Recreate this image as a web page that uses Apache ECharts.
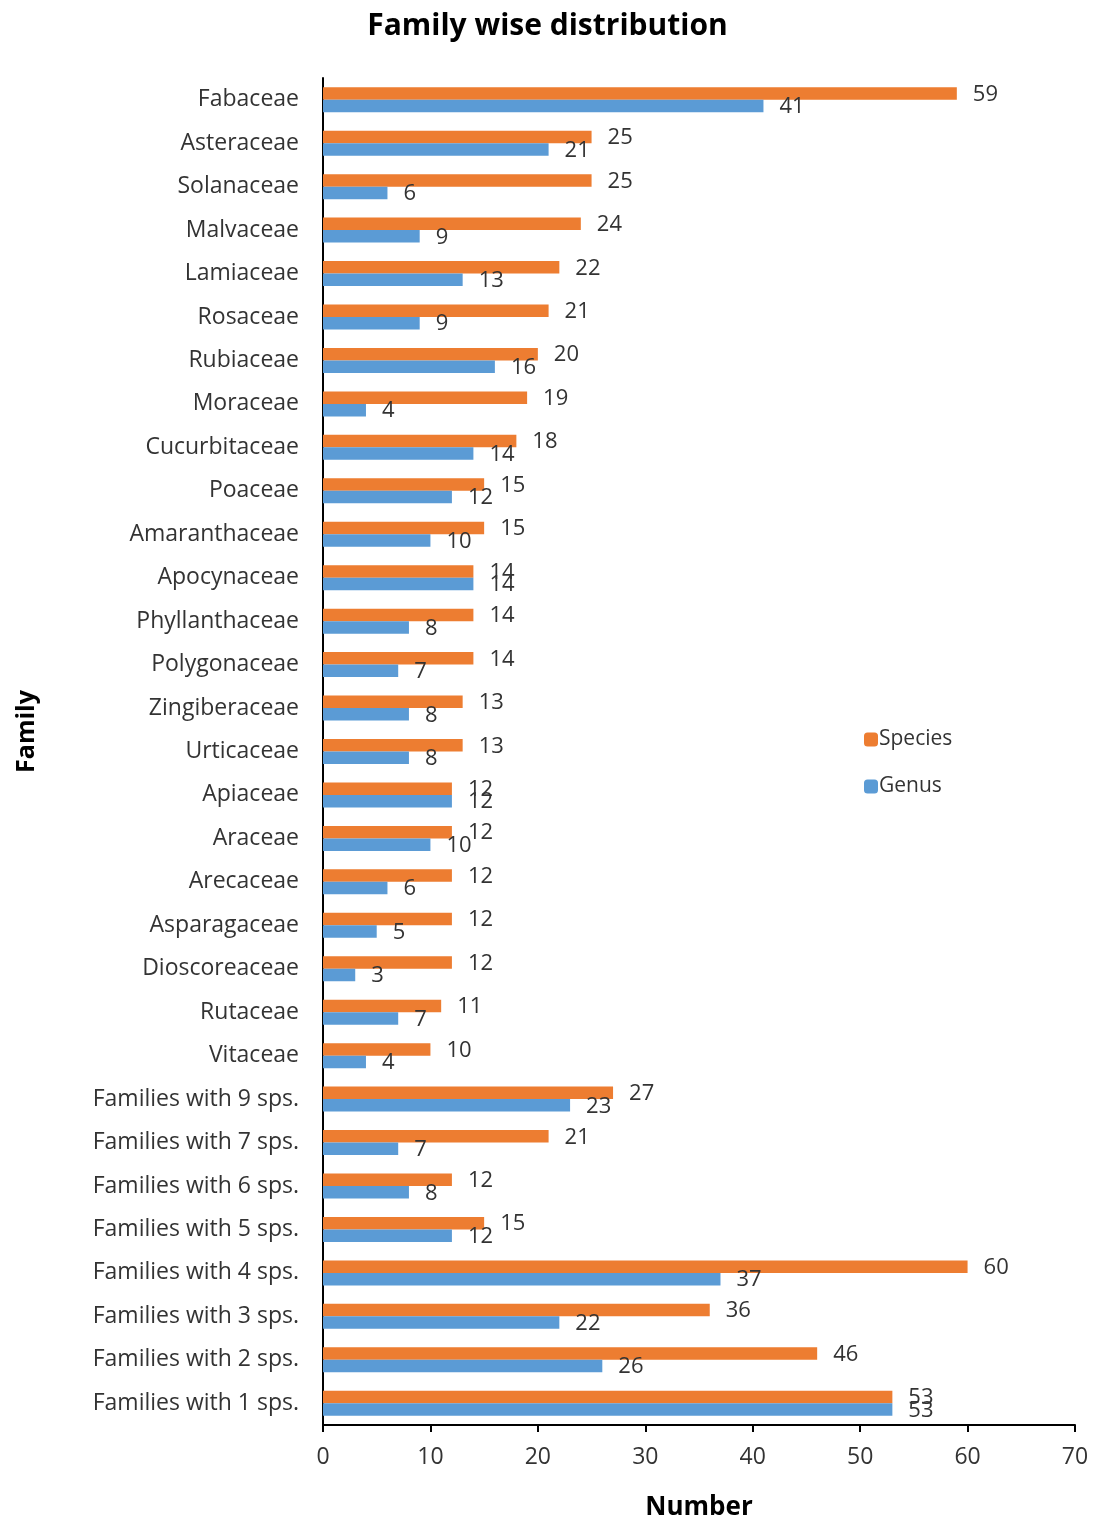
<!DOCTYPE html>
<html>
<head>
<meta charset="utf-8">
<script src="https://cdn.jsdelivr.net/npm/echarts@6/dist/echarts.min.js"></script>
<style>
  html, body { margin: 0; padding: 0; background: #fff; }
  #graph { width: 1095px; height: 1517px; }
</style>
</head>
<body>
<div id="graph"></div>
<script>
// families, top to bottom
const families = [
  'Fabaceae', 'Asteraceae', 'Solanaceae', 'Malvaceae', 'Lamiaceae', 'Rosaceae',
  'Rubiaceae', 'Moraceae', 'Cucurbitaceae', 'Poaceae', 'Amaranthaceae', 'Apocynaceae',
  'Phyllanthaceae', 'Polygonaceae', 'Zingiberaceae', 'Urticaceae', 'Apiaceae', 'Araceae',
  'Arecaceae', 'Asparagaceae', 'Dioscoreaceae', 'Rutaceae', 'Vitaceae',
  'Families with 9 sps.', 'Families with 7 sps.', 'Families with 6 sps.',
  'Families with 5 sps.', 'Families with 4 sps.', 'Families with 3 sps.',
  'Families with 2 sps.', 'Families with 1 sps.'
];
const species = [59, 25, 25, 24, 22, 21, 20, 19, 18, 15, 15, 14, 14, 14, 13, 13, 12, 12,
  12, 12, 12, 11, 10, 27, 21, 12, 15, 60, 36, 46, 53];
const genus = [41, 21, 6, 9, 13, 9, 16, 4, 14, 12, 10, 14, 8, 7, 8, 8, 12, 10,
  6, 5, 3, 7, 4, 23, 7, 8, 12, 37, 22, 26, 53];
const xTicks = [0, 10, 20, 30, 40, 50, 60, 70];

const font = '"Open Sans", "Noto Sans", sans-serif';
const textColor = '#333';

var myChart = echarts.init(document.getElementById('graph'));
myChart.setOption({
  backgroundColor: '#fff',
  animation: false,
  title: {
    text: 'Family wise distribution',
    left: 'center',
    top: 6,
    textStyle: { fontFamily: font, fontSize: 30, fontWeight: 'bold', color: '#000' }
  },
  legend: {
    orient: 'vertical',
    left: 859,
    top: 724,
    itemGap: 26,
    itemWidth: 14,
    itemHeight: 14,
    data: ['Species', 'Genus'],
    textStyle: { fontFamily: font, fontSize: 21, color: textColor, padding: [0, 0, 0, -4] }
  },
  grid: { left: 323, right: 20, top: 78, bottom: 92, containLabel: false, outerBoundsMode: 'none' },
  xAxis: {
    type: 'value',
    min: xTicks[0],
    max: xTicks[xTicks.length - 1],
    interval: 10,
    name: 'Number',
    nameLocation: 'middle',
    nameGap: 70,
    nameTextStyle: { fontFamily: font, fontSize: 26, fontWeight: 'bold', color: '#000' },
    axisLine: { show: true, lineStyle: { color: '#000', width: 2 } },
    axisTick: { show: true, length: 7, lineStyle: { color: '#000', width: 2 } },
    axisLabel: { fontFamily: font, fontSize: 23, color: textColor, margin: 21 },
    splitLine: { show: false }
  },
  yAxis: {
    type: 'category',
    inverse: true,
    data: families,
    name: 'Family',
    nameLocation: 'middle',
    nameGap: 284,
    nameRotate: 90,
    nameTextStyle: {
      fontFamily: font, fontSize: 25, fontWeight: 'bold', color: '#000',
      padding: [0, 0, 0, 40]
    },
    axisLine: { show: true, lineStyle: { color: '#000', width: 2 } },
    axisTick: { show: false },
    axisLabel: { fontFamily: font, fontSize: 23, color: textColor, margin: 24 }
  },
  series: [
    {
      name: 'Species',
      type: 'bar',
      data: species,
      barWidth: 12.5,
      barGap: '0%',
      itemStyle: { color: '#ED7D31' },
      label: {
        show: true, position: 'right', distance: 16,
        fontFamily: font, fontSize: 22, color: textColor, offset: [0, 1]
      }
    },
    {
      name: 'Genus',
      type: 'bar',
      data: genus,
      barWidth: 12.5,
      barGap: '0%',
      itemStyle: { color: '#5B9BD5' },
      label: {
        show: true, position: 'right', distance: 16,
        fontFamily: font, fontSize: 22, color: textColor, offset: [0, 1]
      }
    }
  ]
});
</script>
</body>
</html>
